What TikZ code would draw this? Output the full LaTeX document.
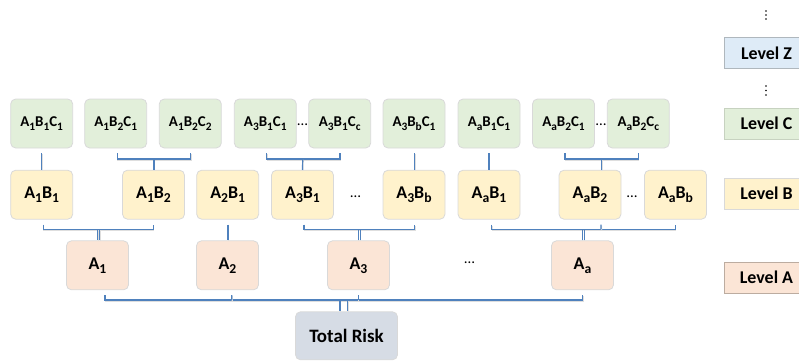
\documentclass[tikz,border=0pt]{standalone}
\usepackage{fontspec}
\usepackage{graphicx}
\setmainfont{Carlito}
\usetikzlibrary{calc}

\definecolor{cfill}{HTML}{E2EFDA}
\definecolor{bfill}{HTML}{FFF2CC}
\definecolor{afill}{HTML}{FBE5D6}
\definecolor{tfill}{HTML}{D6DCE5}
\definecolor{zfill}{HTML}{DEEBF7}
\definecolor{wire}{HTML}{4F81BD}
\definecolor{boxline}{HTML}{D9D9D9}

% lowered, reduced index as in the risk labels
\newcommand\sbs[1]{\raisebox{-0.22em}{\scalebox{0.76}{#1}}}

\tikzset{
  riskbox/.style={draw=boxline, line width=0.8bp, rounded corners=5bp,
    minimum width=62bp, minimum height=49bp, inner sep=0pt, font=\bfseries\fontsize{18}{18}\selectfont},
  cbox/.style={riskbox, fill=cfill, font=\bfseries\fontsize{15}{15}\selectfont},
  bbox/.style={riskbox, fill=bfill},
  abox/.style={riskbox, fill=afill},
  totbox/.style={riskbox, fill=tfill, minimum width=102bp, minimum height=48bp,
    font=\bfseries\fontsize{19}{19}\selectfont},
  legend/.style={anchor=west, minimum width=84bp, minimum height=31bp, inner sep=0pt,
    font=\bfseries\fontsize{18}{18}\selectfont, text depth=0pt},
  gap/.style={font=\fontsize{15}{15}\selectfont, inner sep=0pt},
  conn/.style={draw=wire, line width=1.2bp,
    preaction={draw=black!13, line width=1.2bp, transform canvas={xshift=0.5bp,yshift=-0.9bp}}},
}

\begin{document}
\begin{tikzpicture}[x=1bp, y=-1bp]
\useasboundingbox (0,0) rectangle (799,361);

% Level C
\node[cbox] (c111) at (41.7,123.5) {A\sbs{1}B\sbs{1}C\sbs{1}};
\node[cbox] (c121) at (115.7,123.5) {A\sbs{1}B\sbs{2}C\sbs{1}};
\node[cbox] (c122) at (190.3,123.5) {A\sbs{1}B\sbs{2}C\sbs{2}};
\node[cbox] (c311) at (265.3,123.5) {A\sbs{3}B\sbs{1}C\sbs{1}};
\node[cbox] (c31c) at (339.7,123.5) {A\sbs{3}B\sbs{1}C\sbs{c}};
\node[cbox] (c3b1) at (414,123.5) {A\sbs{3}B\sbs{b}C\sbs{1}};
\node[cbox] (ca11) at (489,123.5) {A\sbs{a}B\sbs{1}C\sbs{1}};
\node[cbox] (ca21) at (563.5,123.5) {A\sbs{a}B\sbs{2}C\sbs{1}};
\node[cbox] (ca2c) at (638.3,123.5) {A\sbs{a}B\sbs{2}C\sbs{c}};
\node[gap] (gc1) at (302.5,125) {\ldots};
\node[gap] (gc2) at (601,125) {\ldots};

% Level B
\node[bbox] (b11) at (41.7,194.7) {A\sbs{1}B\sbs{1}};
\node[bbox] (b12) at (153.5,194.7) {A\sbs{1}B\sbs{2}};
\node[bbox] (b21) at (227.7,194.7) {A\sbs{2}B\sbs{1}};
\node[bbox] (b31) at (302.5,194.7) {A\sbs{3}B\sbs{1}};
\node[bbox] (b3b) at (414,194.7) {A\sbs{3}B\sbs{b}};
\node[bbox] (ba1) at (489,194.7) {A\sbs{a}B\sbs{1}};
\node[bbox] (ba2) at (590,194.7) {A\sbs{a}B\sbs{2}};
\node[bbox] (bab) at (675.5,194.7) {A\sbs{a}B\sbs{b}};
\node[gap] (gb1) at (355.5,197) {\ldots};
\node[gap] (gb2) at (632,197) {\ldots};

% Level A
\node[abox] (a1) at (97.5,265.3) {A\sbs{1}};
\node[abox] (a2) at (227.5,265.3) {A\sbs{2}};
\node[abox] (a3) at (358.5,265.3) {A\sbs{3}};
\node[abox] (aa) at (582.5,265.3) {A\sbs{a}};
\node[gap] (ga1) at (469.5,263) {\ldots};

% Top
\node[totbox] (tot) at (346.5,335.8) {Total Risk};

% Legend
\node[legend, fill=zfill, draw=zfill!70!black!80] (lz) at (724.3,52.8) {Level Z};
\node[legend, fill=cfill, draw=cfill!88!black] (lc) at (724.3,123.3) {Level C};
\node[legend, fill=bfill, draw=black!15] (lb) at (724.3,193.7) {Level B};
\node[legend, fill=afill, draw=afill!75!black] (la) at (724.3,277.3) {Level A};
\foreach \yy in {11,15,19,86,90.5,95}
  \fill (766,\yy) circle[radius=0.9bp];

% Level C to Level B
\draw[conn] ([yshift=-5bp]c111.south) -- (b11.north);
\draw[conn] ([xshift=1.6bp,yshift=-5bp]c121.south) |- (154,159) -| ([xshift=0.4bp,yshift=-5bp]c122.south);
\draw[conn] (154,159) -- (b12.north -| 154,0);
\draw[conn] ([xshift=1.4bp,yshift=-5bp]c311.south) |- (302.7,159) -| ([xshift=0.3bp,yshift=-5bp]c31c.south);
\draw[conn] (302.7,159) -- (b31.north);
\draw[conn] ([xshift=0.7bp,yshift=-5bp]c3b1.south) -- ([xshift=0.7bp]b3b.north);
\draw[conn] ([yshift=-5bp]ca11.south) -- (ba1.north);
\draw[conn] ([xshift=1.5bp,yshift=-5bp]ca21.south) |- (601.5,159) -| ([yshift=-5bp]ca2c.south);
\draw[conn] (601.5,159) -- (ba2.north -| 601.5,0);

% Level B to Level A
\draw[conn] ([xshift=1.6bp,yshift=-5bp]b11.south) |- (97.7,229.3) -| ([xshift=-0.2bp,yshift=-5bp]b12.south);
\draw[conn] (97.7,229.3) -- (a1.north -| 97.7,0);
\draw[conn] (99.7,229.3) -- (a1.north -| 99.7,0);
\draw[conn] ([xshift=0.3bp,yshift=-5bp]b21.south) -- ([xshift=0.5bp]a2.north);
\draw[conn] ([xshift=1.5bp,yshift=-5bp]b31.south) |- (358.3,229.3) -| ([xshift=0.7bp,yshift=-5bp]b3b.south);
\draw[conn] (358.3,229.3) -- (a3.north -| 358.3,0);
\draw[conn] (360.3,229.3) -- (a3.north -| 360.3,0);
\draw[conn] ([xshift=2.7bp,yshift=-5bp]ba1.south) |- (582.3,229.3) -| ([xshift=-0.2bp,yshift=-5bp]bab.south);
\draw[conn] ([xshift=11bp,yshift=-5bp]ba2.south) -- (601,229.3);
\draw[conn] (582.3,229.3) -- (aa.north -| 582.3,0);
\draw[conn] (584.3,229.3) -- (aa.north -| 584.3,0);

% Level A to Total Risk
\draw[conn] ([xshift=7.5bp,yshift=-5bp]a1.south) |- (340,300) -| ([yshift=-5bp]aa.south);
\draw[conn] ([xshift=4.2bp,yshift=-5bp]a2.south) -- (231.7,300);
\draw[conn] ([xshift=-0.2bp,yshift=-5bp]a3.south) -- (358.3,300);
\draw[conn] (340,300) -- (tot.north -| 340,0);
\draw[conn] (347.7,300) -- (tot.north -| 347.7,0);
\end{tikzpicture}
\end{document}
